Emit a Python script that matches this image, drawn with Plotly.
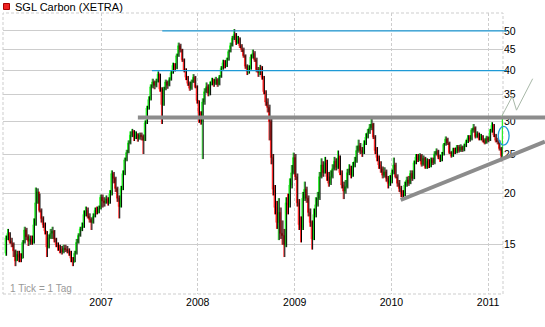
import numpy as np
import pandas as pd
import plotly.graph_objects as go

# ---------------- data (weekly bars) ----------------
first_open = 14.3

close_2006 = [15.6,16.0,15.3,15.1,14.5,13.7,14.2,14.0,13.9,15.2,16.3,15.7,15.3,15.5,15.2,16.8,19.0,20.2,18.2,17.4,
              16.8,16.2,14.8,15.6,16.0,16.2,15.5,15.0,14.8,14.6,14.4,14.7,14.6,14.5,14.3,13.9,13.6,14.3,15.2,15.8,
              16.4,16.6,17.8,18.2,17.6,17.3,17.0,17.6,18.2,18.0,18.4,19.6]
high_2006 = [15.8,16.4,16.1,15.6,15.2,14.6,14.5,14.5,14.3,15.4,16.6,16.5,15.9,15.8,15.8,17.4,20.7,20.6,20.0,18.4,
             17.6,17.0,16.2,15.9,16.4,16.6,16.3,15.6,15.2,15.0,14.9,15.0,15.0,14.9,14.7,14.5,14.0,14.5,15.5,16.0,
             16.6,17.0,18.2,18.6,18.5,17.9,17.5,17.9,18.5,18.6,18.7,19.9]
low_2006 = [14.1,15.4,15.1,14.8,14.0,13.3,13.7,13.6,13.6,13.9,15.1,15.4,14.9,15.0,15.0,15.1,16.7,18.9,18.0,17.0,
            16.5,15.9,14.0,14.7,15.5,15.5,15.2,14.8,14.5,14.3,14.2,14.3,14.4,14.3,14.1,13.6,13.3,13.6,14.2,15.1,
            15.7,16.2,16.5,17.6,17.4,17.0,16.3,16.9,17.5,17.8,17.9,18.3]

close_2007 = [19.2,19.0,19.4,19.0,20.0,22.4,21.8,20.6,19.5,18.6,20.6,22.4,24.2,25.2,26.6,27.8,28.4,27.6,27.9,27.3,
              27.8,27.6,27.0,29.8,32.4,34.0,36.5,37.5,36.8,37.6,39.2,36.0,33.0,36.0,37.5,36.8,38.0,39.5,41.2,40.5,
              43.5,46.0,45.0,42.5,40.0,38.5,37.2,36.2,37.5,38.5,36.5,33.8]
high_2007 = [19.9,19.6,19.8,19.6,20.4,22.8,22.6,22.0,20.8,19.8,20.9,22.8,24.5,25.6,27.0,28.4,28.8,28.6,28.4,28.1,
             28.2,28.2,27.9,30.2,32.8,34.6,37.0,38.2,37.8,38.2,39.8,39.3,36.4,36.5,38.0,37.8,38.5,40.0,41.8,41.7,
             44.0,46.8,46.5,45.2,42.8,40.5,38.8,37.6,38.0,39.2,38.8,36.8]
low_2007 = [18.5,18.6,18.9,18.7,18.9,19.8,21.2,20.2,19.1,17.4,18.5,20.4,22.2,24.0,25.1,26.4,27.5,26.9,27.2,26.8,
            27.1,27.0,25.0,26.9,29.6,32.1,33.8,36.2,36.0,36.4,37.4,35.5,29.6,32.8,35.8,36.1,36.6,37.8,39.3,39.8,
            40.3,43.2,44.3,42.0,39.6,37.9,36.7,35.7,35.9,37.3,36.2,33.2]

close_2008 = [31.5,30.0,33.5,35.5,36.5,35.2,37.0,37.8,37.2,38.0,37.0,38.6,40.5,41.8,41.0,42.5,44.5,46.0,48.0,49.0,
              47.0,47.8,46.0,45.0,43.5,41.0,39.8,40.5,43.2,44.0,42.5,40.2,39.5,40.5,38.5,35.5,33.5,32.5,30.0,24.5,
              20.5,18.5,17.0,18.0,16.0,15.8,15.0,19.0,18.8,21.0,22.5,24.5]
high_2008 = [33.8,31.8,34.2,36.2,37.4,37.0,37.6,38.4,38.2,38.6,38.3,39.0,41.0,42.5,42.4,43.0,45.0,46.8,48.6,50.5,
             49.4,48.6,48.2,46.4,45.5,43.8,41.4,41.2,43.8,45.0,44.6,43.0,40.8,41.3,41.0,38.8,35.8,34.2,33.0,30.5,
             25.0,21.0,19.2,19.5,18.5,17.2,16.4,19.6,20.0,21.8,23.5,25.2]
low_2008 = [29.8,29.5,24.3,33.0,35.2,34.6,34.8,36.8,36.5,36.9,36.5,36.8,38.4,40.2,40.5,40.8,42.3,44.3,45.8,47.5,
            46.2,46.5,45.4,44.4,43.0,40.4,39.0,39.3,40.2,42.8,42.0,39.6,38.6,39.0,38.0,35.0,32.8,31.6,27.0,23.6,
            19.8,17.8,16.4,15.4,15.5,15.0,14.0,14.8,17.8,18.5,20.6,22.3]

close_2009 = [22.0,19.0,16.8,16.5,19.5,20.5,19.5,18.0,17.0,15.5,17.8,18.8,19.5,22.0,23.5,22.5,23.8,22.0,21.2,22.0,
              23.0,24.0,23.2,24.5,22.5,21.0,20.3,20.8,22.5,23.0,22.2,23.4,24.0,25.5,26.2,25.5,25.2,26.5,27.5,28.2,
              29.0,29.6,27.5,25.5,24.5,23.5,23.0,22.2,22.6,21.8,21.2,21.5]
high_2009 = [25.0,22.4,19.4,17.6,20.2,21.4,20.8,19.8,18.4,17.2,18.4,19.6,20.2,22.6,24.4,24.0,24.6,24.2,22.6,22.8,
             23.6,24.6,24.4,25.5,24.8,22.8,21.4,21.6,23.0,23.6,23.4,23.9,24.6,26.2,27.1,26.6,26.0,27.0,28.1,28.8,
             29.6,30.6,29.8,27.8,26.0,24.8,24.0,23.3,23.2,22.9,22.1,22.2]
low_2009 = [21.6,18.6,16.3,15.2,16.3,19.2,19.0,17.6,16.6,14.6,15.4,17.5,18.6,19.3,21.8,22.0,22.4,21.5,20.8,21.0,
            21.8,22.8,22.8,23.0,22.2,20.6,19.4,20.0,20.6,22.2,21.8,22.0,23.2,23.8,25.2,25.0,24.6,25.0,26.3,27.3,
            28.0,28.6,27.2,25.0,24.0,23.0,22.5,21.8,21.9,21.4,20.6,20.9]

close_2010 = [22.5,23.5,22.0,21.2,20.6,20.0,19.8,21.0,21.6,21.2,22.4,21.8,23.8,24.6,24.2,24.8,23.6,24.4,23.2,24.0,
              23.4,24.2,23.8,25.0,25.4,24.6,24.2,25.0,26.4,27.2,26.6,25.2,24.8,25.6,25.3,26.0,25.5,26.0,25.6,26.2,
              26.8,27.4,27.2,28.6,29.0,27.6,28.0,27.2,27.6,27.0,26.6,27.4,27.0]
high_2010 = [22.9,24.5,23.8,22.3,21.6,20.9,20.4,21.4,22.0,22.1,22.8,22.8,24.1,25.0,25.0,25.1,25.0,24.8,24.6,24.4,
             24.3,24.5,24.5,25.4,25.8,25.6,24.9,25.3,26.6,27.6,27.4,26.8,25.4,25.9,25.9,26.3,26.3,26.4,26.2,26.5,
             27.1,27.8,27.8,28.9,29.6,29.2,28.4,28.2,28.0,27.8,27.3,27.7,27.6]
low_2010 = [21.2,22.3,21.8,20.8,20.2,19.6,19.3,19.7,20.8,20.9,21.1,21.5,21.7,23.6,23.9,24.0,23.3,23.4,23.0,23.0,
            23.1,23.2,23.5,23.6,24.8,24.3,23.9,24.0,24.8,26.2,26.3,25.0,24.5,24.6,25.0,25.1,25.2,25.3,25.3,25.4,
            26.0,26.6,26.8,27.0,28.2,27.3,27.4,27.0,27.0,26.7,26.4,26.5,26.7]

close_2011 = [28.5,29.4,27.8,27.0,26.8,25.8,24.8,30.5]
high_2011 = [28.8,29.9,29.6,28.0,27.4,27.0,26.0,31.2]
low_2011 = [26.9,28.2,27.5,26.7,26.4,25.5,24.0,24.6]

year_ticks = ["2007", "2008", "2009", "2010", "2011"]
price_ticks = [15, 20, 25, 30, 35, 40, 45, 50]

# drawn analysis lines (date, value)
resistance_levels = [50, 40]
resistance_starts = ["2007-08-20", "2007-07-12"]
resistance_end = "2011-03-13"
support_level = 30.7
support_span = ["2007-05-20", "2011-08-05"]
trend_dates = ["2010-02-05", "2011-08-03"]
trend_values = [19.3, 26.8]
zigzag_dates = ["2011-02-21", "2011-04-02", "2011-04-18", "2011-06-18"]
zigzag_values = [30.9, 34.6, 32.0, 38.2]
circle_dates = ["2011-02-08", "2011-03-21"]
circle_values = [26.3, 29.2]

# ---------------- assemble ----------------
closes = close_2006 + close_2007 + close_2008 + close_2009 + close_2010 + close_2011
highs = high_2006 + high_2007 + high_2008 + high_2009 + high_2010 + high_2011
lows = low_2006 + low_2007 + low_2008 + low_2009 + low_2010 + low_2011
opens = [first_open] + closes[:-1]          # weekly open = previous week's close
dates = pd.date_range("2006-01-06", periods=len(closes), freq="W-FRI")

X0, X1 = pd.Timestamp("2005-12-27"), pd.Timestamp("2011-02-26")
Y0, Y1 = 11.37, 55.3
L0, L1 = np.log10(Y0), np.log10(Y1)

def xp(d):
    return (pd.Timestamp(d) - X0) / (X1 - X0)

def yp(v):
    return (np.log10(v) - L0) / (L1 - L0)

# plot area in pixels: left 3, top 13, width 500, height 281
def ppx(px):
    return (px - 3) / 500.0

def ppy(py):
    return (294 - py) / 281.0

FONT = "Liberation Sans, Arial, sans-serif"
GRID = "#cdcdcd"

fig = go.Figure()
# black high-low wicks, drawn half a week after each coloured bar
half_week = pd.Timedelta(days=3.5)
wx, wy = [], []
for d, h, l in zip(dates, highs, lows):
    wx += [d + half_week, d + half_week, None]
    wy += [l, h, None]
fig.add_trace(go.Scatter(x=wx, y=wy, mode="lines", line=dict(color="#000000", width=1),
                         showlegend=False, hoverinfo="skip"))
# coloured candles
fig.add_trace(go.Candlestick(
    x=dates, open=opens, high=highs, low=lows, close=closes,
    increasing=dict(line=dict(color="#22ee22", width=1), fillcolor="#22ee22"),
    decreasing=dict(line=dict(color="#ff2424", width=1), fillcolor="#ff2424"),
    whiskerwidth=0, showlegend=False, hoverinfo="skip"))

shapes = []
shapes.append(dict(type="rect", xref="paper", yref="paper", x0=0, x1=1, y0=0, y1=1,
                   line=dict(color=GRID, width=1, dash="3px,2px"), layer="below"))
for lvl, st in zip(resistance_levels, resistance_starts):
    shapes.append(dict(type="line", xref="paper", yref="paper", x0=xp(st), x1=xp(resistance_end),
                       y0=yp(lvl), y1=yp(lvl), line=dict(color="#1f9ad6", width=1.2)))
shapes.append(dict(type="line", xref="paper", yref="paper", x0=xp(support_span[0]), x1=xp(support_span[1]),
                   y0=yp(support_level), y1=yp(support_level), line=dict(color="#8c8c8c", width=4)))
shapes.append(dict(type="line", xref="paper", yref="paper", x0=xp(trend_dates[0]), x1=xp(trend_dates[1]),
                   y0=yp(trend_values[0]), y1=yp(trend_values[1]), line=dict(color="#8c8c8c", width=4)))
pts = [(xp(d), yp(v)) for d, v in zip(zigzag_dates, zigzag_values)]
path = "M " + " L ".join(f"{x:.5f},{y:.5f}" for x, y in pts)
shapes.append(dict(type="path", xref="paper", yref="paper", path=path,
                   line=dict(color="#a8b8a8", width=1)))
shapes.append(dict(type="circle", xref="paper", yref="paper",
                   x0=xp(circle_dates[0]), x1=xp(circle_dates[1]),
                   y0=yp(circle_values[0]), y1=yp(circle_values[1]),
                   line=dict(color="#1f9ad6", width=1.3)))
shapes.append(dict(type="rect", xref="paper", yref="paper", x0=ppx(3.5), x1=ppx(9.5), y0=ppy(9.5), y1=ppy(3.5),
                   fillcolor="#ee2222", line=dict(color="#aa0000", width=1)))

annotations = [
    dict(text="SGL Carbon (XETRA)", xref="paper", yref="paper", x=ppx(13), y=ppy(7), xanchor="left",
         yanchor="middle", showarrow=False, font=dict(family=FONT, size=11, color="#000000")),
    dict(text="1 Tick = 1 Tag", xref="paper", yref="paper", x=ppx(8), y=ppy(288.5), xanchor="left",
         yanchor="middle", showarrow=False, font=dict(family=FONT, size=10, color="#999999")),
]

fig.update_layout(
    width=545, height=327, margin=dict(l=3, r=42, t=13, b=33),
    paper_bgcolor="white", plot_bgcolor="white", showlegend=False,
    shapes=shapes, annotations=annotations,
    xaxis=dict(type="date", range=[X0, X1], rangeslider=dict(visible=False),
               tickvals=[f"{y}-01-01" for y in year_ticks], ticktext=year_ticks,
               showgrid=True, gridcolor=GRID, griddash="3px,2px", gridwidth=1,
               zeroline=False, showline=False, ticks="",
               tickfont=dict(family=FONT, size=10.5, color="#000000")),
    yaxis=dict(type="log", range=[L0, L1], side="right",
               tickvals=price_ticks, ticktext=[str(v) for v in price_ticks],
               showgrid=True, gridcolor=GRID, gridwidth=1,
               zeroline=False, showline=False, ticks="",
               tickfont=dict(family=FONT, size=10.5, color="#000000")),
)

fig.write_html("out.html")
